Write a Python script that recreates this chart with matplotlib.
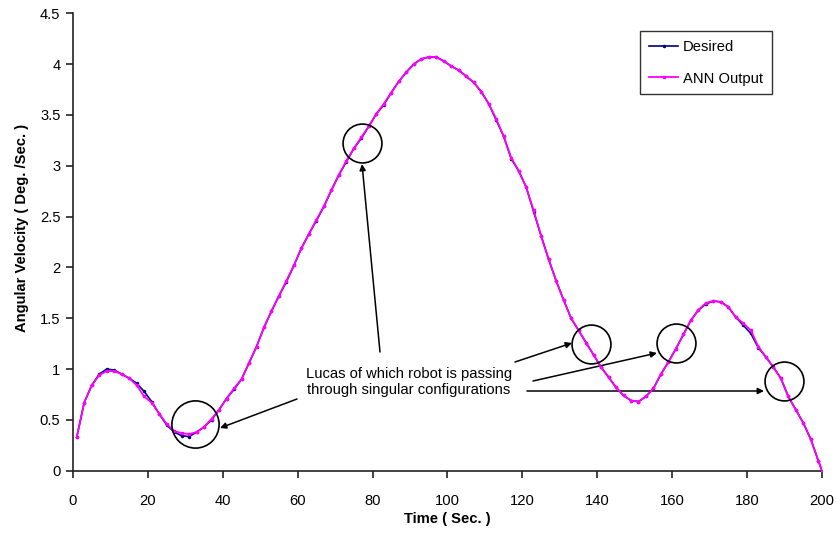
import matplotlib
matplotlib.use("Agg")
import matplotlib.pyplot as plt

plt.rcParams['font.family'] = ['Liberation Sans', 'DejaVu Sans']

time = [1, 3, 5, 7, 9, 11, 13, 15, 17, 19, 21, 23, 25, 27, 29, 31, 33, 35, 37, 39,
        41, 43, 45, 47, 49, 51, 53, 55, 57, 59, 61, 63, 65, 67, 69, 71, 73, 75, 77, 79,
        81, 83, 85, 87, 89, 91, 93, 95, 97, 99, 101, 103, 105, 107, 109, 111, 113, 115, 117, 119,
        121, 123, 125, 127, 129, 131, 133, 135, 137, 139, 141, 143, 145, 147, 149, 151, 153, 155, 157, 159,
        161, 163, 165, 167, 169, 171, 173, 175, 177, 179, 181, 183, 185, 187, 189, 191, 193, 195, 197, 199, 200]

desired = [0.33, 0.67, 0.84, 0.95, 1.00, 0.99, 0.95, 0.91, 0.86, 0.78, 0.68, 0.56, 0.45, 0.38, 0.345, 0.335, 0.38, 0.43, 0.50, 0.60,
           0.71, 0.80, 0.90, 1.06, 1.22, 1.41, 1.57, 1.72, 1.86, 2.02, 2.19, 2.33, 2.46, 2.60, 2.76, 2.91, 3.04, 3.17, 3.27, 3.39,
           3.51, 3.60, 3.72, 3.83, 3.92, 4.00, 4.05, 4.07, 4.07, 4.03, 3.98, 3.94, 3.88, 3.82, 3.73, 3.61, 3.45, 3.29, 3.07, 2.95,
           2.79, 2.55, 2.31, 2.08, 1.87, 1.68, 1.50, 1.38, 1.26, 1.14, 1.02, 0.92, 0.82, 0.74, 0.69, 0.68, 0.73, 0.81, 0.95, 1.07,
           1.20, 1.34, 1.48, 1.58, 1.64, 1.67, 1.66, 1.61, 1.51, 1.43, 1.35, 1.21, 1.12, 1.02, 0.91, 0.73, 0.60, 0.47, 0.31, 0.10, 0.0]

ann_output = [0.33, 0.67, 0.84, 0.94, 0.98, 0.98, 0.95, 0.91, 0.84, 0.73, 0.67, 0.56, 0.46, 0.39, 0.37, 0.36, 0.38, 0.43, 0.51, 0.60,
              0.71, 0.81, 0.90, 1.06, 1.22, 1.41, 1.57, 1.72, 1.87, 2.02, 2.19, 2.33, 2.47, 2.60, 2.76, 2.91, 3.05, 3.17, 3.28, 3.39,
              3.51, 3.61, 3.72, 3.83, 3.92, 4.00, 4.05, 4.07, 4.07, 4.03, 3.98, 3.94, 3.88, 3.82, 3.73, 3.61, 3.46, 3.29, 3.08, 2.95,
              2.79, 2.56, 2.31, 2.08, 1.87, 1.68, 1.50, 1.38, 1.26, 1.14, 1.02, 0.92, 0.82, 0.74, 0.69, 0.68, 0.73, 0.81, 0.95, 1.07,
              1.20, 1.34, 1.48, 1.58, 1.65, 1.67, 1.66, 1.61, 1.51, 1.45, 1.38, 1.22, 1.12, 1.02, 0.91, 0.73, 0.60, 0.47, 0.31, 0.10, 0.0]

x_ticks = [0, 20, 40, 60, 80, 100, 120, 140, 160, 180, 200]
y_ticks = [0, 0.5, 1, 1.5, 2, 2.5, 3, 3.5, 4, 4.5]
y_tick_labels = ['0', '0.5', '1', '1.5', '2', '2.5', '3', '3.5', '4', '4.5']

circle_x = [32.6, 77.2, 138.2, 161.0, 189.8]
circle_y = [0.455, 3.22, 1.25, 1.26, 0.88]
circle_size = [34, 28, 28, 28, 28]

note_text = "Lucas of which robot is passing\nthrough singular configurations"

FS = 10.6

fig = plt.figure(figsize=(8.37, 5.43), dpi=100)
ax = fig.add_axes([73/837, 1-470.7/543, (822-73)/837, (470.7-13.3)/543])

ax.plot(time, desired, color='#000080', lw=1.2, marker='.', ms=3, label='Desired', zorder=3)
ax.plot(time, ann_output, color='#FF00FF', lw=1.3, marker='s', ms=1.8, label='ANN Output', zorder=4)

ax.set_xlim(0, 200)
ax.set_ylim(0, 4.5)
ax.set_xticks(x_ticks)
ax.set_yticks(y_ticks)
ax.set_yticklabels(y_tick_labels)
ax.spines['top'].set_visible(False)
ax.spines['right'].set_visible(False)
for s in ['left', 'bottom']:
    ax.spines[s].set_color('#222222')
    ax.spines[s].set_linewidth(1.2)
ax.tick_params(axis='y', direction='out', length=5, width=1.2, color='#222222', labelsize=FS, pad=4)
ax.tick_params(axis='x', direction='out', length=5, width=1.2, color='#222222', labelsize=FS, pad=12)

ax.set_xlabel('Time ( Sec. )', fontsize=FS, fontweight='bold', labelpad=3)
ax.set_ylabel('Angular Velocity ( Deg. /Sec. )', fontsize=FS, fontweight='bold')
ax.yaxis.set_label_coords(29/837, 1 - 228/543, transform=fig.transFigure)

for cx, cy, cs in zip(circle_x, circle_y, circle_size):
    ax.plot([cx], [cy], marker='o', ms=cs, mfc='none', mec='black', mew=1.2, zorder=5, clip_on=False)

# text and arrows in figure pixel coordinates
def px(x, y):
    return (x/837, 1 - y/543)

fig.text(*px(409, 382), note_text, ha='center', va='center', fontsize=FS, linespacing=1.2)

arrows = [((297, 399), (220, 428)),
          ((380, 352), (362, 164)),
          ((515, 362), (572, 343)),
          ((533, 381), (657, 353)),
          ((527, 391), (764, 391))]
for tail, tip in arrows:
    ax.annotate('', xy=px(*tip), xycoords='figure fraction', xytext=px(*tail), textcoords='figure fraction',
                arrowprops=dict(arrowstyle='-|>', color='black', lw=1.1, mutation_scale=9, shrinkA=0, shrinkB=0))

leg = fig.legend(loc='upper left', bbox_to_anchor=px(640, 31), frameon=True, fancybox=False,
                 edgecolor='black', fontsize=FS, labelspacing=1.2, handlelength=2.0,
                 borderpad=0.6, borderaxespad=0, handletextpad=0.3)
leg.get_frame().set_linewidth(1.0)

fig.savefig('out.png', dpi=100)
